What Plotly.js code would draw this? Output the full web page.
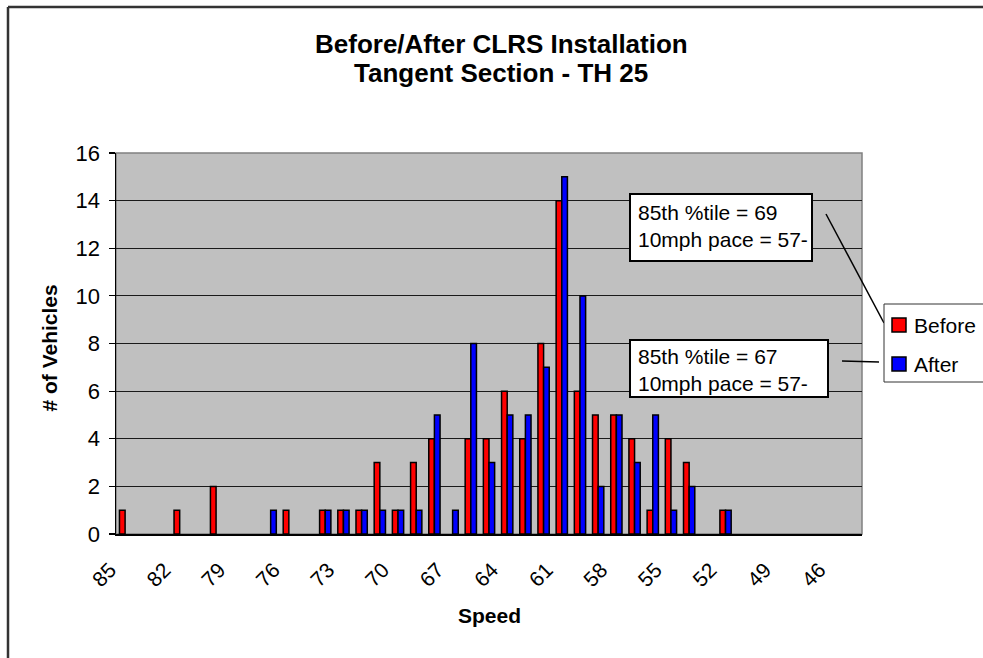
<!DOCTYPE html>
<html>
<head>
<meta charset="utf-8">
<script src="https://cdn.plot.ly/plotly-3.0.1.min.js"></script>
<style>html,body{margin:0;padding:0;background:#fff;}#chart{width:983px;height:658px;}</style>
</head>
<body>
<div id="chart"></div>
<script>
const speeds = [85,84,83,82,81,80,79,78,77,76,75,74,73,72,71,70,69,68,67,66,65,64,63,62,61,60,59,58,57,56,55,54,53,52,51,50,49,48,47,46,45];
const beforeCounts = [1,0,0,1,0,2,0,0,0,1, 0,1,1,1,3,1,3,4,0,4, 4,6,4,8,14,6,5,5,4,1, 4,3,0,1,0,0,0,0,0,0, 0];
const afterCounts  = [0,0,0,0,0,0,0,0,1,0, 0,1,1,1,1,1,1,5,1,8, 3,5,5,7,15,10,2,5,3,5, 1,2,0,1,0,0,0,0,0,0, 0];
const tickLabels = ['85','82','79','76','73','70','67','64','61','58','55','52','49','46'];
const seriesNames = ['Before','After'];
const seriesColors = ['#FF0000','#0000FF'];
const titleLines = ['Before/After CLRS Installation','Tangent Section - TH 25'];
const note1 = ['85th %tile = 69','10mph pace = 57-'];
const note2 = ['85th %tile = 67','10mph pace = 57-'];

const FONT = 'Liberation Sans, Arial, sans-serif';
// pixel -> paper helpers (plot area 116..862 x, 153..534 y)
const L = 116, R = 862, T = 153, B = 534;
const X = px => (px - L) / (R - L);
const Y = py => (B - py) / (B - T);

const cats = speeds.map(String);
const boundaries = [];
for (let i = 0; i <= speeds.length; i++) boundaries.push(i - 0.5);
const hideZero = v => (v === 0 ? null : v);

const traces = [
  {type:'bar', name:seriesNames[0], x:cats, y:beforeCounts.map(hideZero),
   marker:{color:seriesColors[0], line:{color:'#000', width:1.5}}},
  {type:'bar', name:seriesNames[1], x:cats, y:afterCounts.map(hideZero),
   marker:{color:seriesColors[1], line:{color:'#000', width:1.5}}}
];

const ln = (x0, y0, x1, y1, color, width) => ({type:'line', xref:'paper', yref:'paper',
  x0:X(x0), y0:Y(y0), x1:X(x1), y1:Y(y1), line:{color:color, width:width}});

const shapes = [
  {type:'rect', xref:'paper', yref:'paper', x0:0, x1:1, y0:0, y1:1,
   line:{color:'#808080', width:1.5}, layer:'below'},
  // outer chart frame: top and left edges only
  ln(8, 7, 983, 7, '#333', 2.5),
  ln(8, 7, 8, 658, '#333', 2.5),
  {type:'rect', xref:'paper', yref:'paper', x0:X(630), x1:X(812), y0:Y(261), y1:Y(194),
   fillcolor:'#fff', line:{color:'#000', width:2}, layer:'above'},
  {type:'rect', xref:'paper', yref:'paper', x0:X(630), x1:X(828), y0:Y(397), y1:Y(340),
   fillcolor:'#fff', line:{color:'#000', width:2}, layer:'above'},
  ln(826, 214, 884, 323, '#000', 1.5),
  ln(842, 361, 879, 362, '#000', 1.5),
  // legend box (right edge runs off the picture)
  {type:'rect', xref:'paper', yref:'paper', x0:X(884), x1:X(983), y0:Y(382), y1:Y(304),
   fillcolor:'#fff', line:{width:0}},
  ln(884, 304, 983, 304, '#333', 1),
  ln(884, 382, 983, 382, '#333', 1),
  ln(884, 304, 884, 382, '#333', 1)
];
const annotations = [
  {text:'<b>'+titleLines[0]+'</b>', xref:'paper', yref:'paper', x:X(501), y:Y(44),
   xanchor:'center', yanchor:'middle', showarrow:false, font:{family:FONT, size:26, color:'#000'}},
  {text:'<b>'+titleLines[1]+'</b>', xref:'paper', yref:'paper', x:X(501), y:Y(73),
   xanchor:'center', yanchor:'middle', showarrow:false, font:{family:FONT, size:26, color:'#000'}},
  {text:note1.join('<br>'), xref:'paper', yref:'paper', x:X(636), y:Y(226),
   xanchor:'left', yanchor:'middle', align:'left', showarrow:false,
   font:{family:FONT, size:21, color:'#000'}},
  {text:note2.join('<br>'), xref:'paper', yref:'paper', x:X(636), y:Y(370),
   xanchor:'left', yanchor:'middle', align:'left', showarrow:false,
   font:{family:FONT, size:21, color:'#000'}},
  {text:'<b>Speed</b>', xref:'paper', yref:'paper', x:X(489), y:Y(615),
   xanchor:'center', yanchor:'middle', showarrow:false,
   font:{family:FONT, size:21, color:'#000'}},
  {text:'<b># of Vehicles</b>', xref:'paper', yref:'paper', x:X(48.5), y:Y(348),
   xanchor:'center', yanchor:'middle', textangle:-90, showarrow:false,
   font:{family:FONT, size:21, color:'#000'}}
];
// legend entries (drawn)
const legendRows = [325, 364];
seriesNames.forEach((nm, i) => {
  shapes.push({type:'rect', xref:'paper', yref:'paper', x0:X(892), x1:X(906),
    y0:Y(legendRows[i]+7), y1:Y(legendRows[i]-7), fillcolor:seriesColors[i],
    line:{color:'#000', width:1.5}});
  annotations.push({text:nm, xref:'paper', yref:'paper', x:X(912), y:Y(legendRows[i]),
    xanchor:'left', yanchor:'middle', showarrow:false, font:{family:FONT, size:21, color:'#000'}});
});

const layout = {
  width:983, height:658,
  paper_bgcolor:'#fff', plot_bgcolor:'#C0C0C0',
  font:{family:FONT, size:21, color:'#000'},
  margin:{l:L, r:983-R, t:T, b:658-B, autoexpand:false},
  barmode:'group', bargap:0.38, bargroupgap:0,
  showlegend:false,
  xaxis:{type:'category', categoryorder:'array', categoryarray:cats,
         range:[-0.5, speeds.length-0.5], tickvals:tickLabels, ticktext:tickLabels,
         tickangle:-45, ticks:'', showgrid:false, zeroline:false,
         showline:true, linecolor:'#000', linewidth:1.5,
         ticklabelstandoff:14, ticklabelshift:-15,
         tickfont:{family:FONT, size:21, color:'#000'}},
  xaxis2:{overlaying:'x', type:'linear', range:[-0.5, speeds.length-0.5],
          tickvals:boundaries, ticks:'outside', ticklen:6, tickwidth:1.2, tickcolor:'#000',
          showticklabels:false, showgrid:false, zeroline:false, anchor:'y', side:'bottom'},
  yaxis:{range:[0,16], dtick:2, ticks:'outside', ticklen:6, tickwidth:1.2, tickcolor:'#000',
         showgrid:true, gridcolor:'#1a1a1a', gridwidth:1, zeroline:false,
         showline:true, linecolor:'#000', linewidth:1.5, ticklabelstandoff:4,
         tickfont:{family:FONT, size:22, color:'#000'}},
  shapes:shapes,
  annotations:annotations
};

Plotly.newPlot('chart', traces, layout, {displayModeBar:false, staticPlot:true});
</script>
</body>
</html>
